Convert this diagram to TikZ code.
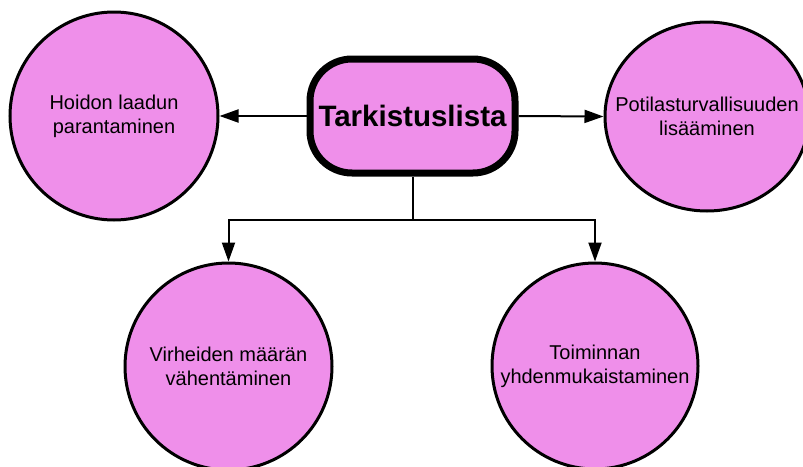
\documentclass[tikz,border=0pt]{standalone}
\usepackage{fontspec}
\setmainfont{Liberation Sans}
\usepackage{tikz}
\usetikzlibrary{arrows.meta, shapes.geometric}
\definecolor{orchid}{HTML}{EF8FEA}

\begin{document}
\begin{tikzpicture}[x=1pt, y=-1pt,
    goal/.style = {draw=black, line width=3pt, fill=orchid, circle, inner sep=0pt},
    goaltext/.style = {align=center, font=\fontsize{20}{24}\selectfont},
    hub/.style = {draw=black, line width=7pt, fill=orchid, rectangle, rounded corners=42pt,
        minimum width=205pt, minimum height=114pt, inner sep=0pt,
        font=\bfseries\fontsize{29.5}{34}\selectfont},
    link/.style = {line width=2pt, -{Triangle[length=19pt, width=13pt]}}]
        \useasboundingbox (0,0) rectangle (803,466);
        \clip (0,0) rectangle (803,466);
        \node[hub] (hub) at (412.5,116) {Tarkistuslista};
        \node[goal, minimum size=208pt, label={[goaltext]center:Hoidon laadun\\parantaminen}] (quality) at (114,116) {};
        \node[goal, ellipse, minimum width=204pt, minimum height=189pt, label={[goaltext]center:Potilasturvallisuuden\\lisääminen}] (safety) at (707,116.5) {};
        \node[goal, minimum size=207pt, label={[goaltext]center:Virheiden määrän\\vähentäminen}] (errors) at (228.5,366.5) {};
        \node[goal, minimum size=206pt, label={[goaltext]center:Toiminnan\\yhdenmukaistaminen}] (unify) at (595,366) {};
        \coordinate (split) at (412.5,220);
        \draw[link] (hub.west) -- (quality.east);
        \draw[link] (hub.east) -- (safety.west);
        \draw[line width=2pt] (hub.south) -- (split);
        \draw[link] (split) -| (errors.north);
        \draw[link] (split) -| (unify.north);
    \end{tikzpicture}
\end{document}
